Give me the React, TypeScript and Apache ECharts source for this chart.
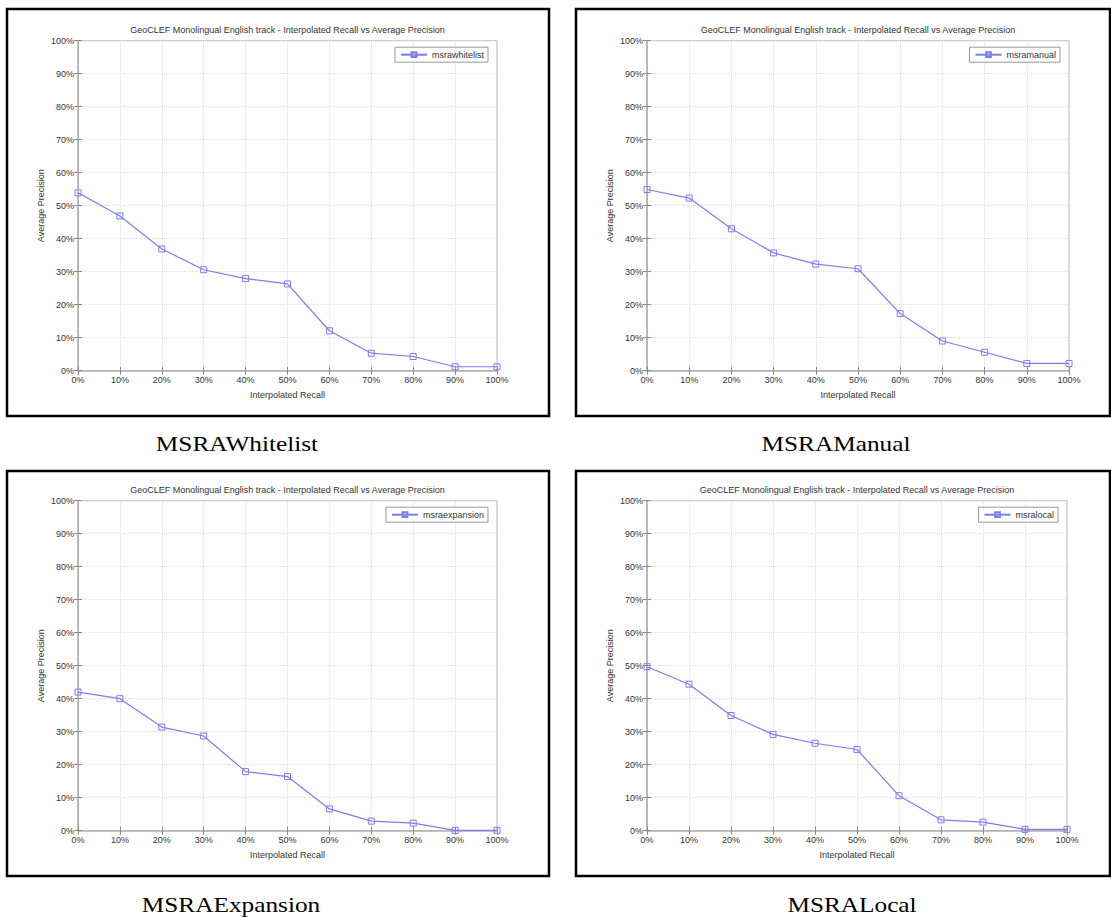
import React, { useEffect, useRef } from "react";
import * as echarts from "echarts";

const recallTicks = [0, 10, 20, 30, 40, 50, 60, 70, 80, 90, 100];
const seriesNames = ["msrawhitelist", "msramanual", "msraexpansion", "msralocal"];
const captions = ["MSRAWhitelist", "MSRAManual", "MSRAExpansion", "MSRALocal"];
const whitelistValues = [53.9, 46.9, 36.9, 30.6, 27.9, 26.3, 12.1, 5.3, 4.3, 1.2, 1.2];
const manualValues = [54.9, 52.3, 43.0, 35.7, 32.3, 30.9, 17.3, 9.0, 5.6, 2.2, 2.2];
const expansionValues = [42.0, 40.0, 31.4, 28.7, 17.9, 16.4, 6.6, 2.9, 2.3, 0.1, 0.1];
const localValues = [49.7, 44.4, 34.9, 29.2, 26.5, 24.6, 10.6, 3.3, 2.6, 0.4, 0.4];
const titleText = "GeoCLEF Monolingual English track - Interpolated Recall vs Average Precision";
const xAxisName = "Interpolated Recall";
const yAxisName = "Average Precision";

const allValues = [whitelistValues, manualValues, expansionValues, localValues];

// layout per panel
const panels = [
  { gl: 78, gw: 419, gt: 40.7, frame: [7, 9, 549, 416], cap: [237, 444], legRight: 623 },
  { gl: 647, gw: 422, gt: 40.7, frame: [576, 9, 1110, 416], cap: [836, 444], legRight: 51 },
  { gl: 78, gw: 419, gt: 500.7, frame: [7, 471, 549, 876], cap: [231, 905], legRight: 623 },
  { gl: 647, gw: 420, gt: 500.7, frame: [576, 471, 1110, 876], cap: [852, 905], legRight: 53 },
];

const FONT = "Liberation Sans";
const LINE = "#7c7cf2";

export default function App() {
  const ref = useRef<HTMLDivElement>(null);
  useEffect(() => {
    if (!ref.current) return;
    const chart = echarts.init(ref.current, undefined, { renderer: "svg" });
    const grid: any[] = [];
    const xAxis: any[] = [];
    const yAxis: any[] = [];
    const series: any[] = [];
    const legend: any[] = [];
    const graphic: any[] = [];
    panels.forEach((p, i) => {
      grid.push({
        left: p.gl,
        top: p.gt,
        width: p.gw,
        height: 330,
        show: true,
        borderColor: "#b4b4b4",
        borderWidth: 1,
        backgroundColor: "#fff",
      });
      xAxis.push({
        type: "value",
        gridIndex: i,
        min: 0,
        max: 100,
        interval: 10,
        name: xAxisName,
        nameLocation: "middle",
        nameGap: 20,
        nameTextStyle: { fontFamily: FONT, fontSize: 9, color: "#333" },
        axisLine: { show: true, lineStyle: { color: "#b4b4b4", width: 1.5 } },
        axisTick: { show: true, inside: true, length: 4, lineStyle: { color: "#888" } },
        axisLabel: { formatter: "{value}%", fontFamily: FONT, fontSize: 9, color: "#333", margin: 5 },
        splitLine: { show: true, lineStyle: { color: "#dcdcdc", type: "dotted" } },
      });
      xAxis.push({
        type: "value",
        gridIndex: i,
        position: "top",
        min: 0,
        max: 100,
        interval: 10,
        axisLine: { show: true, lineStyle: { color: "#b4b4b4", width: 1 } },
        axisTick: { show: true, inside: true, length: 4, lineStyle: { color: "#888" } },
        axisLabel: { show: false },
        splitLine: { show: false },
      });
      yAxis.push({
        type: "value",
        gridIndex: i,
        min: 0,
        max: 100,
        interval: 10,
        name: yAxisName,
        nameLocation: "middle",
        nameGap: 33,
        nameTextStyle: { fontFamily: FONT, fontSize: 9, color: "#333" },
        axisLine: { show: true, lineStyle: { color: "#b4b4b4", width: 1.5 } },
        axisTick: { show: true, inside: true, length: 4, lineStyle: { color: "#888" } },
        axisLabel: { formatter: "{value}%", fontFamily: FONT, fontSize: 9, color: "#333", margin: 4 },
        splitLine: { show: true, lineStyle: { color: "#dcdcdc", type: "dotted" } },
      });
      yAxis.push({
        type: "value",
        gridIndex: i,
        position: "right",
        min: 0,
        max: 100,
        interval: 10,
        axisLine: { show: true, lineStyle: { color: "#b4b4b4", width: 1 } },
        axisTick: { show: true, inside: true, length: 4, lineStyle: { color: "#888" } },
        axisLabel: { show: false },
        splitLine: { show: false },
      });
      series.push({
        type: "line",
        name: seriesNames[i],
        xAxisIndex: 2 * i,
        yAxisIndex: 2 * i,
        data: recallTicks.map((r, k) => [r, allValues[i][k]]),
        symbol: "rect",
        symbolSize: 6,
        showAllSymbol: true,
        lineStyle: { color: LINE, width: 1.2 },
        itemStyle: { color: "rgba(255,255,255,0)", borderColor: LINE, borderWidth: 1 },
        color: LINE,
      });
      legend.push({
        data: [seriesNames[i]],
        right: p.legRight,
        top: p.gt + 6.5,
        orient: "vertical",
        backgroundColor: "#fff",
        borderColor: "#999",
        borderWidth: 1,
        borderRadius: 0,
        padding: [3, 4, 3, 5],
        itemWidth: 26,
        itemHeight: 6,
        itemGap: 0,
        textStyle: { fontFamily: FONT, fontSize: 9, color: "#333" },
      });
      const [x1, y1, x2, y2] = p.frame;
      graphic.push({
        type: "rect",
        shape: { x: x1, y: y1, width: x2 - x1, height: y2 - y1 },
        style: { fill: "none", stroke: "#000", lineWidth: 2.5 },
        z: -10,
        silent: true,
      });
      graphic.push({
        type: "text",
        x: p.gl + p.gw / 2,
        y: p.gt - 11,
        style: {
          text: titleText,
          fontFamily: FONT,
          fontSize: 9,
          fill: "#333",
          textAlign: "center",
          textVerticalAlign: "middle",
        },
      });
      graphic.push({
        type: "text",
        x: p.cap[0],
        y: p.cap[1],
        scaleX: 1.15,
        style: {
          text: captions[i],
          fontFamily: "Liberation Serif",
          fontSize: 22,
          fill: "#000",
          textAlign: "center",
          textVerticalAlign: "middle",
        },
      });
    });
    chart.setOption({
      animation: false,
      backgroundColor: "#fff",
      grid,
      xAxis,
      yAxis,
      series,
      legend,
      graphic,
    });
    return () => chart.dispose();
  }, []);
  return (
    <div
      ref={ref}
      style={{ position: "absolute", left: 0, top: 0, width: 1111, height: 918 }}
    />
  );
}
